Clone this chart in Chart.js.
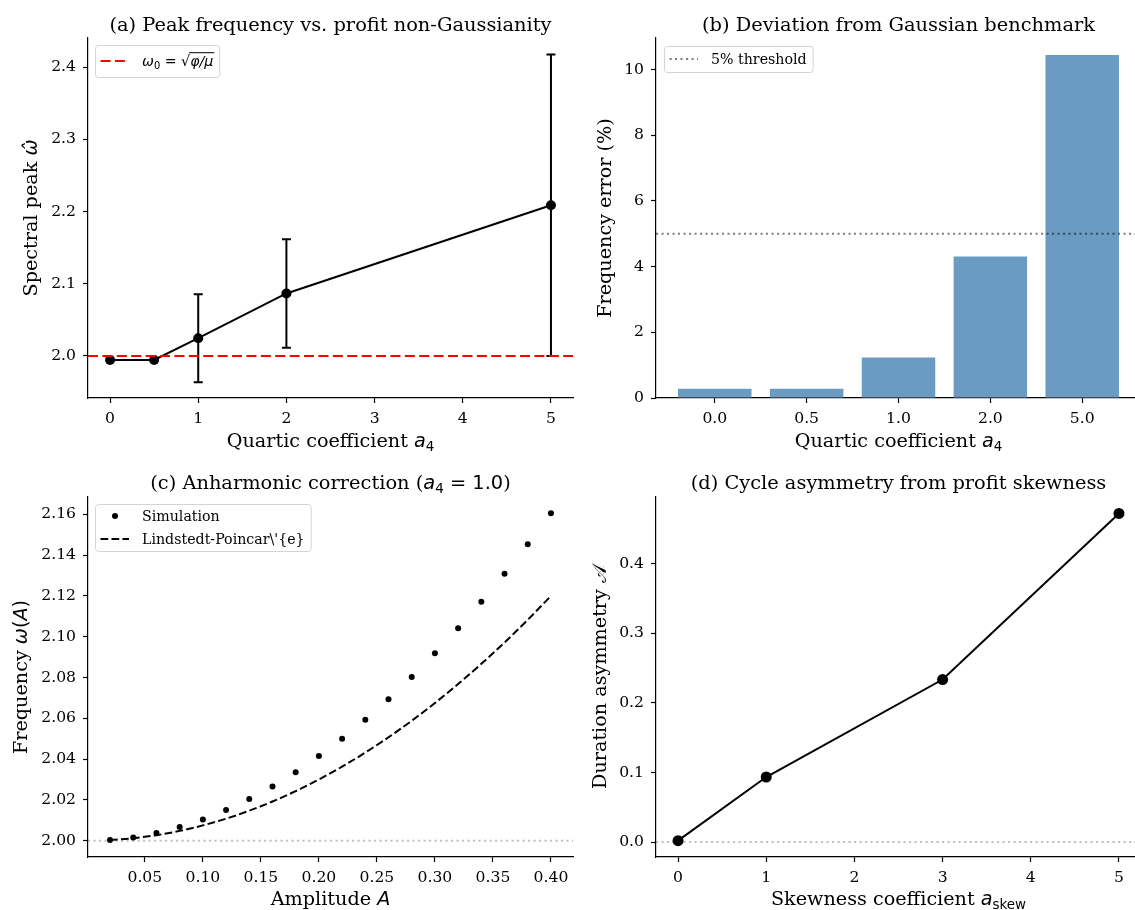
<!DOCTYPE html>
<html>
<head>
<meta charset="utf-8">
<title>Non-Gaussian profit dynamics</title>
<script src="https://cdn.jsdelivr.net/npm/chart.js@4.4.1/dist/chart.umd.min.js"></script>
<style>
  html, body { margin: 0; padding: 0; background: #fff; width: 1135px; height: 910px; overflow: hidden; position: relative; }
  canvas.panel { position: absolute; }
</style>
</head>
<body>
<canvas id="peakChart" class="panel" style="left:0;top:0" width="580" height="460"></canvas>
<canvas id="errorChart" class="panel" style="left:580px;top:0" width="580" height="460"></canvas>
<canvas id="anharmChart" class="panel" style="left:0;top:460px" width="580" height="450"></canvas>
<canvas id="skewChart" class="panel" style="left:580px;top:460px" width="580" height="450"></canvas>
<script>
// (a) spectral peak against quartic coefficient
const a4Values = [0, 0.5, 1, 2, 5];
const peakFreq = [1.9945, 1.9945, 2.0246, 2.0866, 2.2088];
const peakErr = [0, 0, 0.061, 0.0752, 0.2088];
const omegaZero = 2.0;

// (b) relative frequency error
const a4Labels = ['0.0', '0.5', '1.0', '2.0', '5.0'];
const freqErrorPct = [0.28, 0.28, 1.23, 4.31, 10.44];
const thresholdPct = 5;

// (c) amplitude dependence of the frequency
const amplitudes = [0.02, 0.04, 0.06, 0.08, 0.10, 0.12, 0.14, 0.16, 0.18, 0.20,
                    0.22, 0.24, 0.26, 0.28, 0.30, 0.32, 0.34, 0.36, 0.38, 0.40];
const simFreq = [2.0003, 2.0016, 2.0038, 2.0067, 2.0104, 2.0150, 2.0204, 2.0266, 2.0336, 2.0415,
                 2.0500, 2.0593, 2.0694, 2.0803, 2.0919, 2.1041, 2.1172, 2.1309, 2.1453, 2.1605];
const lpFreq = [2.0003, 2.0012, 2.0027, 2.0048, 2.0075, 2.0108, 2.0147, 2.0192, 2.0243, 2.0300,
                2.0363, 2.0432, 2.0507, 2.0588, 2.0675, 2.0768, 2.0867, 2.0972, 2.1083, 2.1200];

// (d) duration asymmetry against skewness
const skewCoef = [0, 1, 3, 5];
const durationAsym = [0.002, 0.0935, 0.2336, 0.4724];

// tick positions
const peakTicksX = [0, 1, 2, 3, 4, 5];
const peakTicksY = [2.0, 2.1, 2.2, 2.3, 2.4];
const errTicksX = [0, 1, 2, 3, 4];
const errTicksY = [0, 2, 4, 6, 8, 10];
const ampTicksX = [0.05, 0.10, 0.15, 0.20, 0.25, 0.30, 0.35, 0.40];
const ampTicksY = [2.00, 2.02, 2.04, 2.06, 2.08, 2.10, 2.12, 2.14, 2.16];
const skewTicksX = [0, 1, 2, 3, 4, 5];
const skewTicksY = [0.0, 0.1, 0.2, 0.3, 0.4];

const SERIF = "'DejaVu Serif', serif";
const MATH = "'DejaVu Sans', sans-serif";
const INK = '#000';
const TITLE_SIZE = 19.4;
const LABEL_SIZE = 19.2;
const TICK_SIZE = 15.6;
const LEGEND_SIZE = 14.2;

// ---- mixed-font text (serif words + math italics / subscripts) ----
function segFont(s, size) {
  const sz = s.sub ? size * 0.7 : size;
  if (s.f === 'i') return 'italic ' + sz + 'px ' + MATH;
  if (s.f === 'r') return sz + 'px ' + MATH;
  return sz + 'px ' + SERIF;
}
function richWidth(ctx, segs, size) {
  let w = 0;
  for (const s of segs) { ctx.font = segFont(s, size); w += ctx.measureText(s.t).width; }
  return w;
}
function drawRich(ctx, segs, x, y, size, align) {
  const w = richWidth(ctx, segs, size);
  let cx = align === 'center' ? x - w / 2 : x;
  ctx.textAlign = 'left';
  ctx.textBaseline = 'alphabetic';
  for (const s of segs) {
    ctx.font = segFont(s, size);
    const sw = ctx.measureText(s.t).width;
    ctx.fillText(s.t, cx, y + (s.sub ? size * 0.22 : 0));
    if (s.over) ctx.fillRect(cx - 1, y - size * 0.98, sw + 2, Math.max(1, size * 0.07));
    cx += sw;
  }
  return w;
}

function drawRefLine(chart, r) {
  const ctx = chart.ctx, a = chart.chartArea;
  const y = chart.scales.y.getPixelForValue(r.value);
  ctx.save();
  ctx.strokeStyle = r.color;
  ctx.lineWidth = r.width;
  ctx.setLineDash(r.dash);
  ctx.beginPath();
  ctx.moveTo(a.left, y);
  ctx.lineTo(a.right, y);
  ctx.stroke();
  ctx.restore();
}

function drawErrorBars(chart, eb) {
  const ctx = chart.ctx, xs = chart.scales.x, ys = chart.scales.y;
  ctx.save();
  ctx.strokeStyle = INK;
  ctx.lineWidth = 2;
  eb.x.forEach((xv, i) => {
    if (!eb.err[i]) return;
    const px = xs.getPixelForValue(xv);
    const top = ys.getPixelForValue(eb.y[i] + eb.err[i]);
    const bot = ys.getPixelForValue(eb.y[i] - eb.err[i]);
    ctx.beginPath();
    ctx.moveTo(px, top); ctx.lineTo(px, bot);
    ctx.moveTo(px - 4.5, top); ctx.lineTo(px + 4.5, top);
    ctx.moveTo(px - 4.5, bot); ctx.lineTo(px + 4.5, bot);
    ctx.stroke();
  });
  ctx.restore();
}

function drawLegend(chart, lg) {
  const ctx = chart.ctx, a = chart.chartArea;
  const bx = a.left + lg.dx, by = a.top + lg.dy;
  let tw = 0;
  lg.items.forEach(it => { tw = Math.max(tw, richWidth(ctx, it.label, LEGEND_SIZE)); });
  const bw = 47 + tw + 6;
  ctx.save();
  ctx.beginPath();
  ctx.roundRect(bx + 0.5, by + 0.5, bw, lg.height, 3);
  ctx.fillStyle = 'rgba(255,255,255,0.8)';
  ctx.fill();
  ctx.strokeStyle = '#d4d4d4';
  ctx.lineWidth = 1;
  ctx.stroke();
  lg.items.forEach((it, i) => {
    const cy = by + lg.firstRow + i * lg.rowStep;
    if (it.kind === 'line') {
      ctx.save();
      ctx.strokeStyle = it.color;
      ctx.lineWidth = it.width;
      ctx.setLineDash(it.dash);
      ctx.beginPath();
      ctx.moveTo(bx + 5.5, cy);
      ctx.lineTo(bx + 34, cy);
      ctx.stroke();
      ctx.restore();
    } else {
      ctx.fillStyle = it.color;
      ctx.beginPath();
      ctx.arc(bx + 20, cy, 3, 0, Math.PI * 2);
      ctx.fill();
    }
    ctx.fillStyle = INK;
    drawRich(ctx, it.label, bx + 47, cy + LEGEND_SIZE * 0.36, LEGEND_SIZE, 'left');
  });
  ctx.restore();
}

// per-panel decorations: titles, axis labels, reference lines, error bars, legend
function makeDecor(cfg) {
  return {
    id: 'decor',
    beforeDatasetsDraw(chart) {
      (cfg.refLines || []).filter(r => !r.front).forEach(r => drawRefLine(chart, r));
      if (cfg.errorBars) drawErrorBars(chart, cfg.errorBars);
    },
    afterDatasetsDraw(chart) {
      (cfg.refLines || []).filter(r => r.front).forEach(r => drawRefLine(chart, r));
    },
    afterDraw(chart) {
      const ctx = chart.ctx, a = chart.chartArea;
      const cx = (a.left + a.right) / 2;
      ctx.save();
      ctx.fillStyle = INK;
      drawRich(ctx, cfg.title, cx, cfg.titleY, TITLE_SIZE, 'center');
      drawRich(ctx, cfg.xLabel, cx, cfg.xLabelY, LABEL_SIZE, 'center');
      ctx.translate(cfg.yLabelX, (a.top + a.bottom) / 2);
      ctx.rotate(-Math.PI / 2);
      drawRich(ctx, cfg.yLabel, 0, 0, LABEL_SIZE, 'center');
      ctx.restore();
      if (cfg.legend) drawLegend(chart, cfg.legend);
    }
  };
}

function axis(min, max, ticks, fmt, fit, pad) {
  return {
    type: 'linear', min, max, offset: false,
    afterBuildTicks: s => { s.ticks = ticks.map(v => ({ value: v })); },
    afterFit: fit,
    ticks: { font: { family: SERIF, size: TICK_SIZE }, color: INK, padding: pad, maxRotation: 0, autoSkip: false, callback: fmt },
    grid: { display: true, drawOnChartArea: false, drawTicks: true, tickLength: 5, tickWidth: 1.2, tickColor: INK, offset: false },
    border: { display: true, color: INK, width: 1.2 }
  };
}
const fixed = (v, n) => Number(v).toFixed(n);

function baseOptions(scales, padding) {
  return {
    responsive: false,
    animation: false,
    layout: { padding },
    plugins: { legend: { display: false }, title: { display: false }, tooltip: { enabled: false } },
    scales
  };
}

const xy = (xs, ys) => xs.map((x, i) => ({ x, y: ys[i] }));

// (a)
new Chart(document.getElementById('peakChart'), {
  type: 'scatter',
  data: {
    datasets: [{
      data: xy(a4Values, peakFreq),
      showLine: true,
      borderColor: INK, borderWidth: 2,
      pointRadius: 5, pointBackgroundColor: INK, pointBorderWidth: 0
    }]
  },
  options: baseOptions({
    x: axis(-0.25, 5.25, peakTicksX, v => fixed(v, 0), s => { s.height = 62; }, 7),
    y: axis(1.9418, 2.4404, peakTicksY, v => fixed(v, 1), s => { s.width = 88; }, 7)
  }, { left: 0, right: 7, top: 38, bottom: 0 }),
  plugins: [makeDecor({
    title: [{ t: '(a) Peak frequency vs. profit non-Gaussianity', f: 's' }],
    titleY: 30.5,
    xLabel: [{ t: 'Quartic coefficient ', f: 's' }, { t: 'a', f: 'i' }, { t: '4', f: 'r', sub: true }],
    xLabelY: 446.5,
    yLabel: [{ t: 'Spectral peak ', f: 's' }, { t: 'ω\u0302', f: 'i' }],
    yLabelX: 37,
    errorBars: { x: a4Values, y: peakFreq, err: peakErr },
    refLines: [{ value: omegaZero, color: '#ff0000', width: 2, dash: [10, 4.4], front: true }],
    legend: {
      dx: 7, dy: 7, height: 32, firstRow: 16, rowStep: 0,
      items: [{
        kind: 'line', color: '#ff0000', width: 2, dash: [10, 4.4],
        label: [{ t: 'ω', f: 'i' }, { t: '0', f: 'r', sub: true }, { t: ' = ', f: 'r' },
                { t: '√', f: 'r' }, { t: 'φ/μ', f: 'i', over: true }]
      }]
    }
  })]
});

// (b)
new Chart(document.getElementById('errorChart'), {
  type: 'bar',
  data: {
    datasets: [{
      data: xy(errTicksX, freqErrorPct),
      backgroundColor: '#6b9bc3',
      barPercentage: 0.8, categoryPercentage: 1.0
    }]
  },
  options: baseOptions({
    x: axis(-0.64, 4.64, errTicksX, v => a4Labels[v], s => { s.height = 62; }, 7),
    y: axis(0, 10.96, errTicksY, v => fixed(v, 0), s => { s.width = 76; }, 7)
  }, { left: 0, right: 19, top: 38, bottom: 0 }),
  plugins: [makeDecor({
    title: [{ t: '(b) Deviation from Gaussian benchmark', f: 's' }],
    titleY: 30.5,
    xLabel: [{ t: 'Quartic coefficient ', f: 's' }, { t: 'a', f: 'i' }, { t: '4', f: 'r', sub: true }],
    xLabelY: 446.5,
    yLabel: [{ t: 'Frequency error (%)', f: 's' }],
    yLabelX: 31,
    refLines: [{ value: thresholdPct, color: 'rgba(0,0,0,0.5)', width: 2, dash: [2.1, 3.4], front: true }],
    legend: {
      dx: 8, dy: 8, height: 26, firstRow: 13, rowStep: 0,
      items: [{ kind: 'line', color: 'rgba(0,0,0,0.5)', width: 2, dash: [2.1, 3.4], label: [{ t: '5% threshold', f: 's' }] }]
    }
  })]
});

// (c)
new Chart(document.getElementById('anharmChart'), {
  type: 'scatter',
  data: {
    datasets: [{
      data: xy(amplitudes, simFreq),
      pointRadius: 3, pointBackgroundColor: INK, pointBorderWidth: 0
    }, {
      data: xy(amplitudes, lpFreq),
      showLine: true, cubicInterpolationMode: 'monotone',
      borderColor: INK, borderWidth: 2, borderDash: [7.7, 3.3],
      pointRadius: 0
    }]
  },
  options: baseOptions({
    x: axis(0.001, 0.419, ampTicksX, v => fixed(v, 2), s => { s.height = 53; }, 7),
    y: axis(1.992, 2.1685, ampTicksY, v => fixed(v, 2), s => { s.width = 88; }, 7)
  }, { left: 0, right: 7, top: 37, bottom: 0 }),
  plugins: [makeDecor({
    title: [{ t: '(c) Anharmonic correction (', f: 's' }, { t: 'a', f: 'i' }, { t: '4', f: 'r', sub: true },
            { t: ' = 1.0', f: 'r' }, { t: ')', f: 's' }],
    titleY: 28.5,
    xLabel: [{ t: 'Amplitude ', f: 's' }, { t: 'A', f: 'i' }],
    xLabelY: 445,
    yLabel: [{ t: 'Frequency ', f: 's' }, { t: 'ω', f: 'i' }, { t: '(', f: 'r' }, { t: 'A', f: 'i' }, { t: ')', f: 'r' }],
    yLabelX: 27,
    refLines: [{ value: omegaZero, color: 'rgba(128,128,128,0.5)', width: 2, dash: [2.1, 3.4], front: false }],
    legend: {
      dx: 7, dy: 7, height: 47, firstRow: 12, rowStep: 23,
      items: [
        { kind: 'dot', color: INK, label: [{ t: 'Simulation', f: 's' }] },
        { kind: 'line', color: INK, width: 2, dash: [7.7, 3.3], label: [{ t: "Lindstedt-Poincar\\'{e}", f: 's' }] }
      ]
    }
  })]
});

// (d)
new Chart(document.getElementById('skewChart'), {
  type: 'scatter',
  data: {
    datasets: [{
      data: xy(skewCoef, durationAsym),
      showLine: true,
      borderColor: INK, borderWidth: 2,
      pointRadius: 5.5, pointBackgroundColor: INK, pointBorderWidth: 0
    }]
  },
  options: baseOptions({
    x: axis(-0.25, 5.25, skewTicksX, v => fixed(v, 0), s => { s.height = 53; }, 7),
    y: axis(-0.0215, 0.496, skewTicksY, v => fixed(v, 1), s => { s.width = 76; }, 7)
  }, { left: 0, right: 19, top: 37, bottom: 0 }),
  plugins: [makeDecor({
    title: [{ t: '(d) Cycle asymmetry from profit skewness', f: 's' }],
    titleY: 28.5,
    xLabel: [{ t: 'Skewness coefficient ', f: 's' }, { t: 'a', f: 'i' }, { t: 'skew', f: 'r', sub: true }],
    xLabelY: 445,
    yLabel: [{ t: 'Duration asymmetry ', f: 's' }, { t: '𝒜', f: 'r' }],
    yLabelX: 25.5,
    refLines: [{ value: 0, color: 'rgba(128,128,128,0.5)', width: 2, dash: [2.1, 3.4], front: false }]
  })]
});
</script>
</body>
</html>
